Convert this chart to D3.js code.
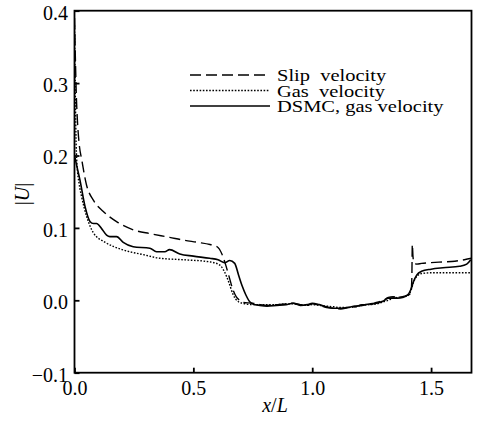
<!DOCTYPE html>
<html>
<head>
<meta charset="utf-8">
<script src="https://cdn.jsdelivr.net/npm/d3@7"></script>
<style>
  html, body { margin: 0; padding: 0; background: #fff; }
  svg { display: block; }
  svg text { font-family: "Liberation Serif", "Times New Roman", serif !important; fill: #000; }
</style>
</head>
<body>
<svg id="chart" width="482" height="421"></svg>
<script>
// Slip velocity (dashed)
const slipX = [0, 0.004, 0.008, 0.012, 0.02, 0.03, 0.05, 0.08, 0.12, 0.18, 0.25, 0.32, 0.40, 0.46, 0.52, 0.57, 0.60, 0.62, 0.635, 0.65, 0.665, 0.68, 0.695, 0.71,
  0.75, 0.78, 0.81, 0.85, 0.89, 0.92, 0.95, 0.98, 1.0, 1.03, 1.06, 1.09, 1.12, 1.15, 1.18, 1.21, 1.24, 1.27, 1.30, 1.32, 1.34, 1.36, 1.38, 1.40,
  1.415, 1.419, 1.421, 1.424, 1.428, 1.44, 1.46, 1.50, 1.55, 1.60, 1.64, 1.67];
const slipY = [0.39, 0.33, 0.28, 0.25, 0.215, 0.195, 0.16, 0.138, 0.123, 0.108, 0.097, 0.092, 0.087, 0.083, 0.080, 0.077, 0.074, 0.064, 0.050, 0.033, 0.016, 0.005, 0.000, -0.003,
  -0.004, -0.006, -0.007, -0.006, -0.005, -0.004, -0.006, -0.007, -0.005, -0.007, -0.010, -0.011, -0.012, -0.010, -0.009, -0.006, -0.006, -0.003, 0.000, 0.004, 0.005, 0.004, 0.005, 0.007,
  0.010, 0.030, 0.077, 0.060, 0.052, 0.050, 0.051, 0.052, 0.053, 0.054, 0.056, 0.058];

// Gas velocity (dotted)
const gasX = [0, 0.003, 0.006, 0.01, 0.02, 0.03, 0.05, 0.08, 0.13, 0.20, 0.29, 0.36, 0.46, 0.57, 0.61, 0.63, 0.65, 0.667, 0.69, 0.72,
  0.75, 0.78, 0.81, 0.85, 0.89, 0.92, 0.95, 0.98, 1.0, 1.03, 1.06, 1.09, 1.12, 1.15, 1.18, 1.21, 1.24, 1.27, 1.30, 1.32, 1.34, 1.36, 1.38, 1.40,
  1.415, 1.425, 1.44, 1.46, 1.50, 1.58, 1.67];
const gasY = [0.38, 0.30, 0.23, 0.19, 0.16, 0.143, 0.117, 0.093, 0.080, 0.070, 0.063, 0.058, 0.056, 0.053, 0.049, 0.040, 0.024, 0.008, -0.002, -0.005,
  -0.006, -0.006, -0.006, -0.006, -0.005, -0.005, -0.006, -0.007, -0.006, -0.007, -0.008, -0.009, -0.010, -0.010, -0.009, -0.007, -0.006, -0.005, -0.002, 0.000, 0.003, 0.004, 0.005, 0.006,
  0.013, 0.024, 0.033, 0.037, 0.038, 0.038, 0.038];

// DSMC, gas velocity (solid)
const dsmcX = [0, 0.01, 0.023, 0.044, 0.065, 0.08, 0.093, 0.114, 0.135, 0.149, 0.177, 0.205, 0.247, 0.317, 0.345, 0.38, 0.40, 0.443, 0.50, 0.569, 0.604, 0.632, 0.653, 0.674, 0.69, 0.705, 0.72, 0.737,
  0.75, 0.78, 0.81, 0.85, 0.89, 0.92, 0.95, 0.98, 1.0, 1.03, 1.06, 1.09, 1.12, 1.15, 1.18, 1.21, 1.24, 1.27, 1.30, 1.32, 1.34, 1.36, 1.38, 1.40,
  1.415, 1.425, 1.44, 1.46, 1.50, 1.55, 1.62, 1.65, 1.667];
const dsmcY = [0.20, 0.185, 0.166, 0.130, 0.109, 0.106, 0.106, 0.099, 0.090, 0.088, 0.088, 0.080, 0.074, 0.072, 0.067, 0.067, 0.070, 0.064, 0.061, 0.058, 0.056, 0.052, 0.055, 0.051, 0.035, 0.020, 0.008, -0.002,
  -0.005, -0.007, -0.008, -0.007, -0.006, -0.004, -0.007, -0.006, -0.004, -0.006, -0.009, -0.011, -0.011, -0.010, -0.008, -0.007, -0.005, -0.004, -0.001, 0.003, 0.003, 0.003, 0.004, 0.007,
  0.015, 0.025, 0.035, 0.040, 0.043, 0.045, 0.047, 0.050, 0.056];

const xTicks = [0, 0.5, 1.0, 1.5];
const yTicks = [-0.1, 0, 0.1, 0.2, 0.3, 0.4];
const legendLabels = ["Slip  velocity", "Gas  velocity", "DSMC, gas velocity"];

const svg = d3.select("#chart");
const plotL = 74.5, plotR = 471.5, plotT = 10.7, plotB = 372.7;

const x = d3.scaleLinear().domain([0, 1.67]).range([plotL, plotR]);
const y = d3.scaleLinear().domain([-0.1, 0.4]).range([plotB, plotT]);

svg.append("defs").append("clipPath").attr("id", "plot")
  .append("rect").attr("x", plotL).attr("y", plotT).attr("width", plotR - plotL).attr("height", plotB - plotT);

const series = [
  { xs: slipX, ys: slipY, dash: "11,5", width: 1.4 },
  { xs: gasX, ys: gasY, dash: "1.6,1.6", width: 1.4 },
  { xs: dsmcX, ys: dsmcY, dash: null, width: 1.6 }
];

const line = d3.line().x(d => x(d[0])).y(d => y(d[1])).curve(d3.curveMonotoneX);

const g = svg.append("g").attr("clip-path", "url(#plot)");
series.forEach(s => {
  const pts = s.xs.map((v, i) => [v, s.ys[i]]);
  g.append("path").datum(pts)
    .attr("d", line)
    .attr("fill", "none")
    .attr("stroke", "#000")
    .attr("stroke-width", s.width)
    .attr("stroke-dasharray", s.dash);
});

// frame
svg.append("rect").attr("x", plotL).attr("y", plotT).attr("width", plotR - plotL).attr("height", plotB - plotT)
  .attr("fill", "none").attr("stroke", "#000").attr("stroke-width", 1.8);

// axes with inward ticks
const fmt = d3.format(".1f");
const xAxis = svg.append("g").attr("transform", `translate(0,${plotB})`)
  .call(d3.axisBottom(x).tickValues(xTicks).tickFormat(fmt).tickSizeInner(-5).tickSizeOuter(0).tickPadding(8));
const yAxis = svg.append("g").attr("transform", `translate(${plotL},0)`)
  .call(d3.axisLeft(y).tickValues(yTicks).tickFormat(fmt).tickSizeInner(-5).tickSizeOuter(0).tickPadding(6.5));
[xAxis, yAxis].forEach(a => {
  a.attr("font-family", null);
  a.select(".domain").remove();
  a.selectAll(".tick line").attr("stroke", "#000").attr("stroke-width", 1.8);
  a.selectAll(".tick text").attr("font-size", 20).attr("fill", "#000");
});
yAxis.selectAll(".tick text").attr("dy", "0.42em");

// axis titles
const xl = svg.append("text").attr("x", 275).attr("y", 412).attr("text-anchor", "middle").attr("font-size", 20);
xl.append("tspan").attr("font-style", "italic").text("x");
xl.append("tspan").text("/");
xl.append("tspan").attr("font-style", "italic").text("L");

const yl = svg.append("text").attr("transform", "translate(29,194) rotate(-90)")
  .attr("text-anchor", "middle").attr("font-size", 20);
yl.append("tspan").text("|");
yl.append("tspan").attr("font-style", "italic").text("U");
yl.append("tspan").text("|");

// legend: slightly wide lettering, tight rows
const legend = svg.append("g");
const rowsY = [75, 90.5, 106];
series.forEach((s, i) => {
  legend.append("line").attr("x1", 190).attr("x2", 270).attr("y1", rowsY[i]).attr("y2", rowsY[i])
    .attr("stroke", "#000").attr("stroke-width", s.width).attr("stroke-dasharray", s.dash);
  legend.append("text")
    .attr("transform", `translate(277,${rowsY[i] + 6}) scale(1.17,1)`)
    .attr("font-size", 17.5)
    .attr("xml:space", "preserve").style("white-space", "pre").text(legendLabels[i]);
});
</script>
</body>
</html>
